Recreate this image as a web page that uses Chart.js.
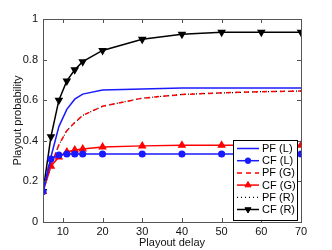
<!DOCTYPE html>
<html>
<head>
<meta charset="utf-8">
<script src="https://cdn.jsdelivr.net/npm/chart.js@4"></script>
<style>
  html, body { margin: 0; padding: 0; background: #fff; }
  #wrap { width: 332px; height: 250px; }
</style>
</head>
<body>
<div id="wrap"><canvas id="chart"></canvas></div>
<script>
// playout delay values (x)
const delays = [5, 7, 9, 11, 13, 15, 20, 30, 40, 50, 60, 70];

// series
const pfL = [0.15, 0.32, 0.47, 0.555, 0.605, 0.63, 0.65, 0.655, 0.66, 0.66, 0.66, 0.66];
const cfL = [0.15, 0.31, 0.33, 0.335, 0.335, 0.335, 0.335, 0.335, 0.335, 0.335, 0.335, 0.335];
const pfG = [0.15, 0.28, 0.38, 0.45, 0.49, 0.525, 0.57, 0.61, 0.628, 0.636, 0.642, 0.645];
const cfG = [0.15, 0.275, 0.32, 0.345, 0.355, 0.36, 0.37, 0.375, 0.378, 0.378, 0.378, 0.378];
const pfR = [0.15, 0.28, 0.38, 0.45, 0.49, 0.525, 0.57, 0.61, 0.628, 0.636, 0.642, 0.645];
const cfR = [0.15, 0.42, 0.60, 0.695, 0.75, 0.79, 0.845, 0.90, 0.925, 0.935, 0.935, 0.935];

const xTicks = [10, 20, 30, 40, 50, 60, 70];
const yTicks = [0, 0.2, 0.4, 0.6, 0.8, 1];

const FONT = "'Liberation Sans', Arial, sans-serif";
const BLUE = "#1a1aff";
const RED = "#ff0000";

function pts(ys) {
  return delays.map((x, i) => ({ x: x, y: ys[i] }));
}

// matlab style box with inward ticks
const framePlugin = {
  id: "frame",
  afterDatasetsDraw(chart) {
    const { ctx, chartArea: a, scales } = chart;
    ctx.save();
    ctx.strokeStyle = "#555";
    ctx.lineWidth = 1;
    ctx.strokeRect(a.left + 0.5, a.top + 0.5, a.right - a.left, a.bottom - a.top);
    ctx.beginPath();
    xTicks.forEach((v) => {
      const px = Math.round(scales.x.getPixelForValue(v)) + 0.5;
      ctx.moveTo(px, a.bottom);
      ctx.lineTo(px, a.bottom - 4);
      ctx.moveTo(px, a.top);
      ctx.lineTo(px, a.top + 4);
    });
    yTicks.forEach((v) => {
      const py = Math.round(scales.y.getPixelForValue(v)) + 0.5;
      ctx.moveTo(a.left, py);
      ctx.lineTo(a.left + 4, py);
      ctx.moveTo(a.right, py);
      ctx.lineTo(a.right - 4, py);
    });
    ctx.stroke();
    ctx.restore();
  },
};

// legend box drawn inside the plot, bottom right
const legendPlugin = {
  id: "boxLegend",
  afterDraw(chart) {
    const { ctx } = chart;
    const x0 = 233, y0 = 140, w = 64, h = 80;
    ctx.save();
    ctx.fillStyle = "#fff";
    ctx.fillRect(x0, y0, w, h);
    ctx.strokeStyle = "#000";
    ctx.lineWidth = 1;
    ctx.strokeRect(x0 + 0.5, y0 + 0.5, w, h);
    chart.data.datasets.forEach((ds, i) => {
      const y = y0 + 8.5 + i * 12.2;
      ctx.save();
      ctx.strokeStyle = ds.borderColor;
      ctx.lineWidth = ds.borderWidth;
      ctx.setLineDash(ds.borderDash || []);
      ctx.beginPath();
      ctx.moveTo(x0 + 4, y);
      ctx.lineTo(x0 + 26, y);
      ctx.stroke();
      ctx.setLineDash([]);
      if (ds.pointRadius > 0) {
        ctx.fillStyle = ds.pointBackgroundColor;
        ctx.strokeStyle = ds.borderColor;
        ctx.lineWidth = 1;
        Chart.helpers.drawPoint(ctx, {
          pointStyle: ds.pointStyle,
          rotation: ds.pointRotation || 0,
          radius: ds.pointRadius,
          borderWidth: 1,
        }, x0 + 15, y);
      }
      ctx.restore();
      ctx.fillStyle = "#000";
      ctx.font = "11px " + FONT;
      ctx.textBaseline = "middle";
      ctx.fillText(ds.label, x0 + 29, y + 0.5);
    });
    ctx.restore();
  },
};

const data = {
  datasets: [
    { label: "PF (L)", data: pts(pfL), borderColor: BLUE, borderWidth: 1.5, pointRadius: 0 },
    { label: "CF (L)", data: pts(cfL), borderColor: BLUE, backgroundColor: BLUE, pointBackgroundColor: BLUE,
      borderWidth: 1.5, pointStyle: "circle", pointRadius: 2.8 },
    { label: "PF (G)", data: pts(pfG), borderColor: RED, borderWidth: 1.5, borderDash: [5, 4], pointRadius: 0 },
    { label: "CF (G)", data: pts(cfG), borderColor: RED, backgroundColor: RED, pointBackgroundColor: RED,
      borderWidth: 1.5, pointStyle: "triangle", pointRadius: 3.5 },
    { label: "PF (R)", data: pts(pfR), borderColor: "#000", borderWidth: 1.2, borderDash: [1, 3], pointRadius: 0 },
    { label: "CF (R)", data: pts(cfR), borderColor: "#000", backgroundColor: "#000", pointBackgroundColor: "#000",
      borderWidth: 1.5, pointStyle: "triangle", pointRotation: 180, pointRadius: 3.5 },
  ],
};

new Chart(document.getElementById("chart"), {
  type: "line",
  data: data,
  options: {
    responsive: true,
    maintainAspectRatio: false,
    animation: false,
    devicePixelRatio: 1,
    layout: { padding: { left: 11, right: 31, top: 19, bottom: 0 } },
    elements: { line: { tension: 0 } },
    scales: {
      x: {
        type: "linear",
        min: 5,
        max: 70,
        afterBuildTicks: (s) => { s.ticks = xTicks.map((v) => ({ value: v })); },
        afterFit: (s) => { s.height = 28; },
        grid: { display: false, drawTicks: false },
        border: { display: false },
        ticks: { color: "#111", padding: 3, maxRotation: 0, font: { family: FONT, size: 11 } },
        title: { display: true, text: "Playout delay", color: "#111", padding: 0, font: { family: FONT, size: 11 } },
      },
      y: {
        min: 0,
        max: 1,
        afterBuildTicks: (s) => { s.ticks = yTicks.map((v) => ({ value: v })); },
        afterFit: (s) => { s.width = 32; },
        grid: { display: false, drawTicks: false },
        border: { display: false },
        ticks: { color: "#111", padding: 5, font: { family: FONT, size: 11 },
          callback: (v) => String(v) },
        title: { display: true, text: "Playout probability", color: "#111", padding: 0, font: { family: FONT, size: 11 } },
      },
    },
    plugins: {
      legend: { display: false },
      tooltip: { enabled: false },
    },
  },
  plugins: [framePlugin, legendPlugin],
});
</script>
</body>
</html>
